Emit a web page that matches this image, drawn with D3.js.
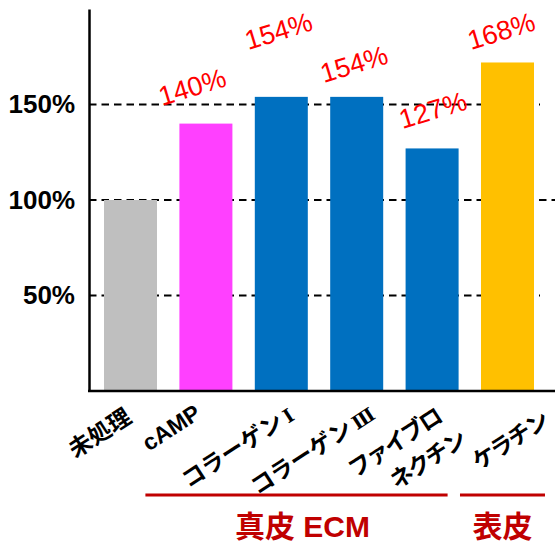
<!DOCTYPE html>
<html>
<head>
<meta charset="utf-8">
<script src="https://cdn.jsdelivr.net/npm/d3@7"></script>
<style>
  html, body { margin: 0; padding: 0; background: #fff; }
  svg { display: block; }
</style>
</head>
<body>
<svg id="chart" width="555" height="542"></svg>
<script>
// ---- data ----
const categories = ["未処理", "cAMP", "コラーゲンⅠ", "コラーゲンⅢ", "ファイブロネクチン", "ケラチン"];
const values = [100, 140, 154, 154, 127, 172];
const valueLabels = ["", "140%", "154%", "154%", "127%", "168%"];
const labelLevels = [null, 154.5, 183.8, 166.5, 142.4, 183.8];
const barColors = ["#BFBFBF", "#FF40FF", "#0070C0", "#0070C0", "#0070C0", "#FFC000"];
const xLabelLines = [["未処理"], ["cAMP"], ["コラーゲンⅠ"], ["コラーゲンⅢ"], ["ファイブロ", "ネクチン"], ["ケラチン"]];
const yTicks = [50, 100, 150];
const groupNames = ["真皮 ECM", "表皮"];
const groupStart = [1, 5];
const groupEnd = [4, 5];

// ---- layout ----
const W = 555, H = 542;
const svg = d3.select("#chart");
const y = d3.scaleLinear().domain([0, 200]).range([391, 9]);
const x = d3.scaleBand().domain(categories).range([89, 549]).paddingInner(0.297).paddingOuter(0.199);
const labelShift = [0, -11, 0, 0, 3.5, -3.5];
const xLabelEnd = [[2.5, 421], [-3.5, 417], [14.5, 419], [20, 418], [11, 421, 35, 444], [42, 425]];
const xLabelSpacing = [0, 0, 0, 0, -2, -2];
const groupPad = [[-34, -11], [-21, 11]];
const latin = "'Liberation Sans', Arial, 'Noto Sans CJK JP', sans-serif";
const cjk = "'Noto Sans CJK JP', 'Liberation Sans', sans-serif";
const isAscii = s => /^[\x00-\x7F]*$/.test(s);

// gridlines (behind bars)
svg.append("g").selectAll("line").data(yTicks).join("line")
  .attr("x1", 89).attr("x2", d => d === 100 ? W : 540)
  .attr("y1", d => y(d)).attr("y2", d => y(d))
  .attr("stroke", "#000").attr("stroke-width", 1.8)
  .attr("stroke-dasharray", "7.5,5");

// bars
svg.append("g").selectAll("rect").data(values).join("rect")
  .attr("x", (d, i) => x(categories[i]))
  .attr("y", d => y(d))
  .attr("width", x.bandwidth())
  .attr("height", d => y(0) - y(d))
  .attr("fill", (d, i) => barColors[i]);

// y axis
const yAxis = svg.append("g").attr("transform", "translate(89,0)")
  .call(d3.axisLeft(y).tickValues(yTicks).tickSize(0).tickPadding(14).tickFormat(d => d + "%"));
yAxis.select(".domain").attr("stroke", "#000").attr("stroke-width", 2.5);
yAxis.selectAll("text").attr("font-family", latin).attr("font-weight", "bold")
  .attr("font-size", 26).attr("fill", "#000");

// x axis line
svg.append("line").attr("x1", 88).attr("x2", W).attr("y1", y(0)).attr("y2", y(0))
  .attr("stroke", "#000").attr("stroke-width", 2.5);

// value labels
svg.append("g").selectAll("text").data(valueLabels.map((t, i) => ({t, i})).filter(d => d.t))
  .join("text")
  .attr("transform", d => `translate(${x(categories[d.i]) + x.bandwidth() / 2 + labelShift[d.i]},${y(labelLevels[d.i])}) rotate(-17)`)
  .attr("text-anchor", "middle")
  .attr("font-family", latin).attr("font-size", 27).attr("fill", "#FF0000")
  .text(d => d.t);

// x category labels
const xl = svg.append("g");
xLabelLines.forEach((lines, i) => {
  const cx = x(categories[i]) + x.bandwidth() / 2;
  lines.forEach((line, j) => {
    const p = xLabelEnd[i];
    const ex = cx + p[j * 2], ey = p[j * 2 + 1];
    const t = xl.append("text")
      .attr("transform", `translate(${ex},${ey}) rotate(-33)`)
      .attr("text-anchor", "end")
      .attr("letter-spacing", xLabelSpacing[i])
      .attr("font-family", isAscii(line) ? latin : cjk).attr("font-weight", "bold")
      .attr("font-size", 23).attr("fill", "#000");
    const m = line.match(/^(.*?)([\u2160-\u216F]+)$/);
    if (m) {
      t.append("tspan").text(m[1]);
      t.append("tspan").attr("dx", 4).attr("font-family", "'DejaVu Serif', 'Liberation Serif', serif")
        .attr("font-weight", "bold").attr("font-size", 19).text(m[2]);
    } else {
      t.text(line);
    }
  });
});

// group brackets
groupNames.forEach((name, g) => {
  const x1 = x(categories[groupStart[g]]) + groupPad[g][0];
  const x2 = x(categories[groupEnd[g]]) + x.bandwidth() + groupPad[g][1];
  svg.append("line").attr("x1", x1).attr("x2", x2).attr("y1", 495).attr("y2", 495)
    .attr("stroke", "#C00000").attr("stroke-width", 3);
  svg.append("text").attr("x", (x1 + x2) / 2 + (g === 0 ? 6 : 0)).attr("y", 537)
    .attr("text-anchor", "middle")
    .attr("font-family", latin).attr("font-weight", "bold")
    .attr("font-size", 30).attr("fill", "#C00000")
    .text(name);
});
</script>
</body>
</html>
